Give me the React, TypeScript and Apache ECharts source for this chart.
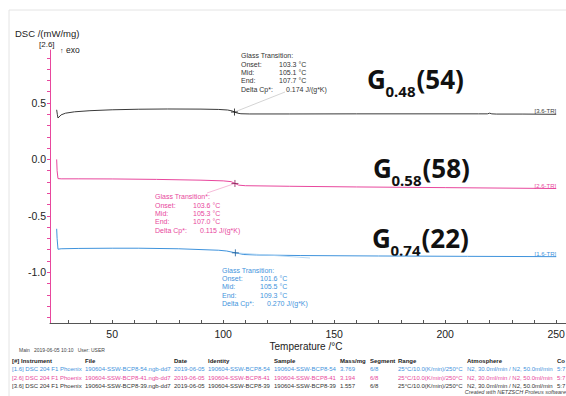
import React, { useEffect, useRef } from "react";
import * as echarts from "echarts";

// ---------- data ----------
// [3.6] black curve
const temps3 = [25.0, 25.3, 25.6, 27, 29, 33, 40, 50, 62, 75, 90, 98, 102, 104, 105.1, 106.5, 108, 112, 130, 160, 190, 215, 219, 220, 221, 223, 235, 250];
const dsc3 = [0.44, 0.40, 0.367, 0.395, 0.41, 0.422, 0.432, 0.44, 0.445, 0.447, 0.446, 0.443, 0.438, 0.43, 0.42, 0.41, 0.405, 0.403, 0.403, 0.404, 0.404, 0.404, 0.404, 0.41, 0.404, 0.402, 0.402, 0.40];
// [2.6] magenta curve
const temps2 = [25.0, 25.2, 25.6, 27, 35, 50, 70, 90, 100, 103.6, 105.3, 107.0, 110, 130, 160, 200, 250];
const dsc2 = [0.0, -0.10, -0.17, -0.172, -0.172, -0.173, -0.177, -0.184, -0.19, -0.197, -0.213, -0.228, -0.233, -0.238, -0.244, -0.25, -0.258];
// [1.6] blue curve
const temps1 = [25.0, 25.2, 25.6, 27, 35, 50, 62, 80, 98, 101.6, 105.5, 109.3, 115, 135, 170, 210, 250];
const dsc1 = [-0.615, -0.70, -0.796, -0.792, -0.789, -0.787, -0.787, -0.792, -0.805, -0.812, -0.828, -0.843, -0.847, -0.852, -0.856, -0.859, -0.862];

// glass transition mid points
const gtMidTemp = [105.5, 105.3, 105.1];
const gtMidDsc = [-0.828, -0.213, 0.42];

const xLabelValues = [50, 100, 150, 200, 250];
const xTickValues = [30, 40, 50, 60, 70, 80, 90, 100, 110, 120, 130, 140, 150, 160, 170, 180, 190, 200, 210, 220, 230, 240, 250];
const yLabelValues = [-1.0, -0.5, 0.0, 0.5];
const yTickValues = [-1.4, -1.3, -1.2, -1.1, -1.0, -0.9, -0.8, -0.7, -0.6, -0.5, -0.4, -0.3, -0.2, -0.1, 0.0, 0.1, 0.2, 0.3, 0.4, 0.5, 0.6, 0.7, 0.8, 0.9];

const curveNames = ["[1.6-TR]", "[2.6-TR]", "[3.6-TR]"];
const sampleLabels = ["0.74", "0.58", "0.48"];
const sampleCounts = ["22", "58", "54"];

const gtBlack = ["Glass Transition:", "Onset:", "Mid:", "End:", "Delta Cp*:"];
const gtBlackVals = ["103.3 °C", "105.1 °C", "107.7 °C", "0.174 J/(g*K)"];
const gtMagenta = ["Glass Transition*:", "Onset:", "Mid:", "End:", "Delta Cp*:"];
const gtMagentaVals = ["103.6 °C", "105.3 °C", "107.0 °C", "0.115 J/(g*K)"];
const gtBlue = ["Glass Transition:", "Onset:", "Mid:", "End:", "Delta Cp*:"];
const gtBlueVals = ["101.6 °C", "105.5 °C", "109.3 °C", "0.270 J/(g*K)"];

const tableHeader = ["[#] Instrument", "File", "Date", "Identity", "Sample", "Mass/mg", "Segment", "Range", "Atmosphere", "Co"];
const tableRow1 = ["[1.6] DSC 204 F1 Phoenix", "190604-SSW-BCP8-54.ngb-dd7", "2019-06-05", "190604-SSW-BCP8-54", "190604-SSW-BCP8-54", "3.769", "6/8", "25°C/10.0(K/min)/250°C", "N2, 30.0ml/min / N2, 50.0ml/min", "5:7"];
const tableRow2 = ["[2.6] DSC 204 F1 Phoenix", "190604-SSW-BCP8-41.ngb-dd7", "2019-06-05", "190604-SSW-BCP8-41", "190604-SSW-BCP8-41", "3.194", "6/8", "25°C/10.0(K/min)/250°C", "N2, 30.0ml/min / N2, 50.0ml/min", "5:7"];
const tableRow3 = ["[3.6] DSC 204 F1 Phoenix", "190604-SSW-BCP8-39.ngb-dd7", "2019-06-05", "190604-SSW-BCP8-39", "190604-SSW-BCP8-39", "1.557", "6/8", "25°C/10.0(K/min)/250°C", "N2, 30.0ml/min / N2, 50.0ml/min", "5:7"];

// ---------- styling ----------
const BLACK = "#3a3a3a";
const MAGENTA = "#e8479d";
const BLUE = "#3f93dc";
const FONT = "'Liberation Sans', Arial, sans-serif";

const zip = (a: number[], b: number[]) => a.map((v, i) => [v, b[i]]);

function txt(x: number, y: number, text: string, size: number, color: string, extra: any = {}) {
  return {
    type: "text",
    x,
    y,
    silent: true,
    style: {
      text,
      fill: color,
      font: `${extra.italic ? "italic " : ""}${extra.weight || "normal"} ${size}px ${extra.family || FONT}`,
      textAlign: extra.align || "left",
      textVerticalAlign: "middle",
    },
  };
}

function gtBlock(x: number, y: number, labels: string[], vals: string[], color: string) {
  const els: any[] = [];
  const dy = 8.4;
  labels.forEach((l, i) => els.push(txt(x, y + i * dy, l, 7, color)));
  vals.forEach((v, i) => els.push(txt(i === 3 ? x + 45 : x + 38, y + (i + 1) * dy, v, 7, color)));
  return els;
}

// big sample label drawn as three pieces: G, subscript, (count)
function bigLabel(x: number, yBase: number, sub: string, count: string) {
  const F = "'Noto Sans', sans-serif";
  const gW = 18.5;
  const subW = 31;
  return [
    { type: "text", x, y: yBase, silent: true, style: { text: "G", fill: "#111", font: `bold 26px ${F}`, textVerticalAlign: "bottom" } },
    { type: "text", x: x + gW, y: yBase + 6, silent: true, style: { text: sub, fill: "#111", font: `bold 15px ${F}`, textVerticalAlign: "bottom" } },
    { type: "text", x: x + gW + subW, y: yBase, silent: true, style: { text: `(${count})`, fill: "#111", font: `bold 26px ${F}`, textVerticalAlign: "bottom" } },
  ];
}

const tableCols = [12, 85, 174, 208, 274, 340, 370, 398, 467, 557];
function tableRow(y: number, row: string[], color: string, bold = false) {
  return row.map((c, i) => txt(tableCols[i], y, c, 6, color, { weight: bold ? "bold" : "normal" }));
}

function plusSeries(idx: number, color: string) {
  return {
    type: "scatter",
    data: [[gtMidTemp[idx], gtMidDsc[idx]]],
    symbol: "path://M0,5L10,5M5,0L5,10",
    symbolSize: 7,
    itemStyle: { color: "none", borderColor: color, borderWidth: 1 },
    silent: true,
    z: 5,
  };
}

function leader(idx: number, px: number, py: number, color: string) {
  return {
    silent: true,
    symbol: ["none", "none"],
    label: { show: false },
    lineStyle: { color, width: 0.8, type: "solid" },
    data: [[{ coord: [gtMidTemp[idx], gtMidDsc[idx]] }, { x: px, y: py }]],
  };
}

function endLabel(text: string, color: string) {
  return {
    show: true,
    formatter: text,
    color,
    fontSize: 6,
    fontFamily: FONT,
    align: "right",
    verticalAlign: "bottom",
    distance: 0,
    offset: [0, 0],
  };
}

export default function App() {
  const ref = useRef<HTMLDivElement>(null);
  useEffect(() => {
    if (!ref.current) return;
    const chart = echarts.init(ref.current, undefined, { renderer: "svg" });
    const graphic: any[] = [
      { type: "rect", shape: { x: 9, y: 10, width: 620, height: 420 }, style: { fill: "none", stroke: "#e4e4e4", lineWidth: 1 }, silent: true },
      txt(15, 33, "DSC /(mW/mg)", 9.5, "#222"),
      txt(39, 44, "[2.6]", 8, "#222"),
      txt(60, 50, "↑", 7, "#222"),
      txt(66, 49.5, "exo", 8.5, "#222"),
      txt(306, 346, "Temperature /°C", 10, "#222", { align: "center" }),
      ...gtBlock(241, 55.7, gtBlack, gtBlackVals, "#333"),
      ...gtBlock(155, 196.7, gtMagenta, gtMagentaVals, MAGENTA),
      ...gtBlock(222, 270, gtBlue, gtBlueVals, BLUE),
      ...bigLabel(367, 92, sampleLabels[2], sampleCounts[2]),
      ...bigLabel(373, 181, sampleLabels[1], sampleCounts[1]),
      ...bigLabel(372, 251, sampleLabels[0], sampleCounts[0]),
      txt(19, 350, "Main   2019-06-05 10:10   User: USER", 5, "#444"),
      ...tableRow(361, tableHeader, "#222", true),
      ...tableRow(369, tableRow1, BLUE),
      ...tableRow(377.5, tableRow2, MAGENTA),
      ...tableRow(385.7, tableRow3, "#333"),
      txt(566, 392, "Created with NETZSCH Proteus software", 5.5, "#444", { align: "right", italic: true }),
    ];
    chart.setOption({
      animation: false,
      backgroundColor: "#ffffff",
      grid: { left: 50, right: 21.6, top: 50, bottom: 73, containLabel: false },
      xAxis: {
        type: "value",
        min: 22,
        max: 260,
        axisLine: { show: true, onZero: false, lineStyle: { color: "#555", width: 1 } },
        axisTick: { show: true, inside: true, length: 3, customValues: xTickValues, lineStyle: { color: "#555" } },
        axisLabel: { customValues: xLabelValues, fontSize: 10.5, color: "#222", margin: 5, fontFamily: FONT },
        splitLine: { show: false },
      },
      yAxis: {
        type: "value",
        min: -1.45,
        max: 0.97,
        axisLine: { show: true, onZero: false, lineStyle: { color: MAGENTA, width: 1 } },
        axisTick: { show: true, length: 3, customValues: yTickValues, lineStyle: { color: MAGENTA } },
        axisLabel: {
          customValues: yLabelValues,
          fontSize: 10.5,
          color: "#222",
          margin: 4,
          fontFamily: FONT,
          formatter: (v: number) => v.toFixed(1),
        },
        splitLine: { show: false },
      },
      series: [
        {
          type: "line",
          data: zip(temps1, dsc1),
          showSymbol: false,
          lineStyle: { color: BLUE, width: 1 },
          endLabel: endLabel(curveNames[0], BLUE),
          markLine: leader(0, 310, 258, "#a9d2f2"),
          silent: true,
        },
        {
          type: "line",
          data: zip(temps2, dsc2),
          showSymbol: false,
          lineStyle: { color: MAGENTA, width: 1 },
          endLabel: endLabel(curveNames[1], MAGENTA),
          markLine: leader(1, 207, 193, "#f4a9cf"),
          silent: true,
        },
        {
          type: "line",
          data: zip(temps3, dsc3),
          showSymbol: false,
          lineStyle: { color: BLACK, width: 1 },
          endLabel: endLabel(curveNames[2], BLACK),
          markLine: leader(2, 285, 92, "#c9c9c9"),
          silent: true,
        },
        plusSeries(0, "#1d5f9c"),
        plusSeries(1, "#8a1d55"),
        plusSeries(2, "#111"),
      ],
      graphic,
    });
    return () => chart.dispose();
  }, []);
  return (
    <div style={{ position: "fixed", left: 0, top: 0, width: 566, height: 396, overflow: "hidden", background: "#fff" }}>
      <div ref={ref} style={{ width: 600, height: 396 }} />
    </div>
  );
}
